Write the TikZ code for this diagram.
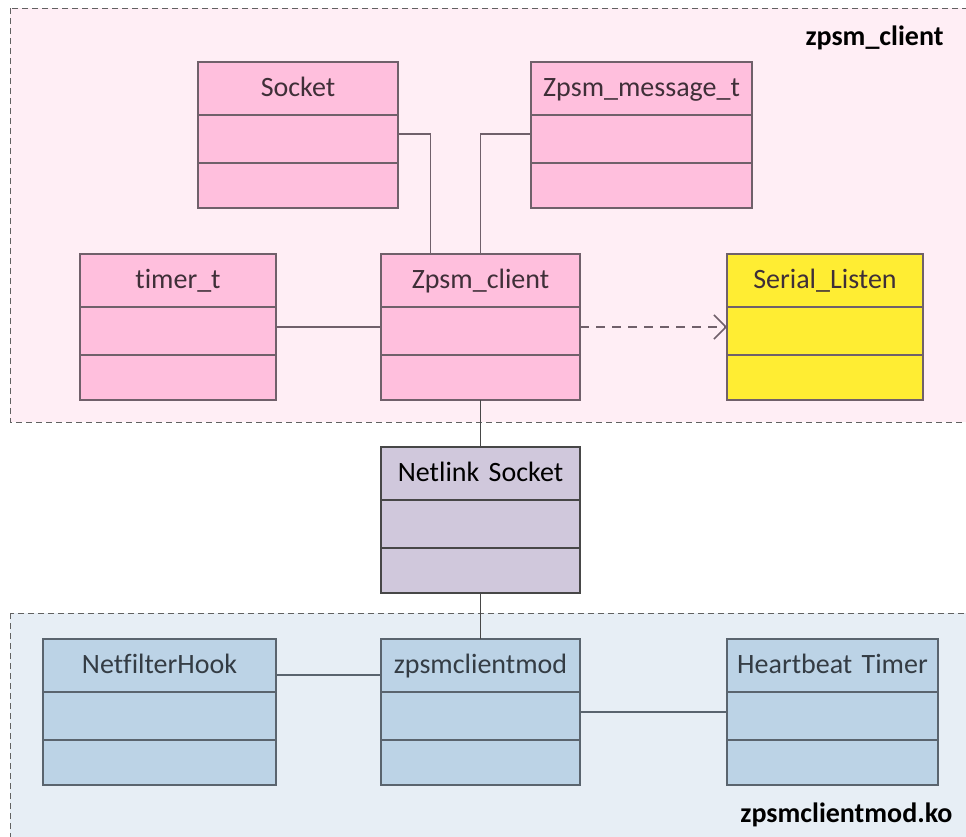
\documentclass[tikz,border=0pt]{standalone}
\usepackage{fontspec}
\setmainfont{Carlito}[Ligatures=NoCommon, WordSpace=0.8]
\usetikzlibrary{positioning,shapes.multipart,arrows.meta}

\definecolor{pinkbg}{HTML}{FFEEF5}
\definecolor{pinkbox}{HTML}{FFBFDD}
\definecolor{pinkline}{HTML}{70606A}
\definecolor{pinktext}{HTML}{3F2F38}
\definecolor{yellowbox}{HTML}{FFED33}
\definecolor{netbox}{HTML}{D0C8DC}
\definecolor{bluebg}{HTML}{E7EEF5}
\definecolor{bluebox}{HTML}{BCD3E6}
\definecolor{blueline}{HTML}{5A646E}
\definecolor{bluetext}{HTML}{343C44}

\tikzset{
  classbox/.style={rectangle split, rectangle split parts=3, draw=pinkline, fill=pinkbox,
    line width=2pt, inner sep=0pt, outer sep=0pt, text width=#1, align=center, text=pinktext,
    font=\fontsize{28}{34}\selectfont},
  region/.style={draw=black!62, dash pattern=on 6pt off 4pt, line width=0.8pt},
  link/.style={draw=pinkline, line width=1.5pt},
  bluelink/.style={draw=blueline, line width=1.5pt},
  regionlabel/.style={anchor=east, font=\fontsize{28}{34}\selectfont\bfseries}
}
\newcommand{\classparts}[1]{\rule[-18pt]{0pt}{51pt}#1\nodepart{two}\rule{0pt}{46pt}\nodepart{three}\rule{0pt}{43pt}}

\begin{document}
\begin{tikzpicture}[x=1pt,y=-1pt]
    \useasboundingbox (0,0) rectangle (966,836);
    \clip (0,0) rectangle (966,836);

    % Regions
    \fill[pinkbg] (10,8) rectangle (975,422);
    \draw[region] (10,8) rectangle (975,422);
    \fill[bluebg] (10,613) rectangle (975,845);
    \draw[region] (10,613) rectangle (975,845);
    \node[regionlabel] (clientlbl) at (947,38) {zpsm\_client};
    \node[regionlabel] (modlbl) at (956,815) {zpsmclientmod.ko};

    % Classes of zpsm_client
    \node[classbox=200pt, anchor=north west] (sock) at (198,62) {\classparts{Socket}};
    \node[classbox=221pt, anchor=north west] (msg) at (531,62) {\classparts{Zpsm\_message\_t}};
    \node[classbox=196pt, anchor=north west] (timer) at (80,254) {\classparts{timer\_t}};
    \node[classbox=199pt, anchor=north west] (client) at (381,254) {\classparts{Zpsm\_client}};
    \node[classbox=196pt, anchor=north west, fill=yellowbox] (serial) at (727,254) {\classparts{Serial\_Listen}};

    % Netlink in between
    \node[classbox=199pt, anchor=north west, fill=netbox, draw=black!72, text=black] (netlink) at (381,447) {\classparts{Netlink Socket}};

    % Classes of zpsmclientmod.ko
    \node[classbox=233pt, anchor=north west, fill=bluebox, draw=blueline, text=bluetext] (hook) at (43,639) {\classparts{NetfilterHook}};
    \node[classbox=199pt, anchor=north west, fill=bluebox, draw=blueline, text=bluetext] (mod) at (381,639) {\classparts{zpsmclientmod}};
    \node[classbox=211pt, anchor=north west, fill=bluebox, draw=blueline, text=bluetext] (beat) at (727,639) {\classparts{Heartbeat Timer}};

    % Connectors
    \draw[link] ([yshift=-19pt]sock.text split east) -| ([xshift=-50pt]client.north);
    \draw[link] ([yshift=-19pt]msg.text split west) -| (client.north);
    \draw[link] (timer.east) -- (client.west);
    \draw[link, dash pattern=on 9pt off 7pt, -{Straight Barb[length=12pt,width=24pt,line width=1.5pt]}] (client.east) -- (serial.west);
    \draw[link, draw=black!72] (client.south) -- (netlink.north);
    \draw[bluelink, draw=black!72] (netlink.south) -- (mod.north);
    \draw[bluelink] ([yshift=17pt]hook.text split east) -- ([yshift=17pt]mod.text split west);
    \draw[bluelink] (mod.east) -- (beat.west);

\end{tikzpicture}
\end{document}
